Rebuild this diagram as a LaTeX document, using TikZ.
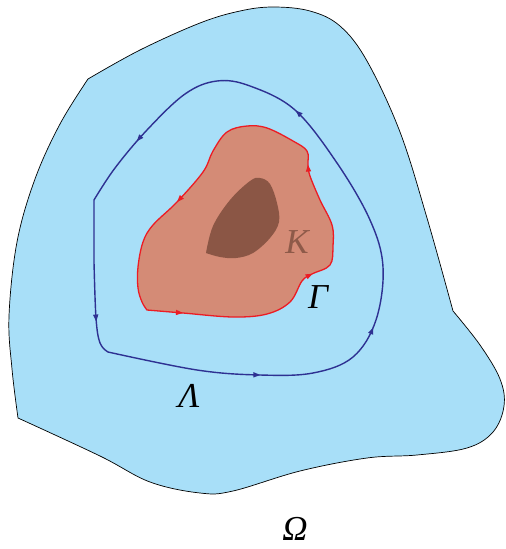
\documentclass[tikz,border=0pt]{standalone}
\usepackage{fontspec}
\setmainfont{Liberation Serif}
\usetikzlibrary{decorations.markings,arrows.meta}
\definecolor{skyfill}{HTML}{A8DFF8}
\definecolor{navyline}{HTML}{2E3192}
\definecolor{redline}{HTML}{EC1C24}
\definecolor{gammafill}{HTML}{D48B76}
\definecolor{kfill}{HTML}{8B5645}
\definecolor{klabel}{HTML}{8E5A49}
\pgfkeys{/pgf/decoration/curvetip/.style={mark=at position #1 with {\arrow{Triangle[length=7pt,width=5pt]}}}}
\tikzset{
  lbl/.style={font=\fontsize{35}{35}\selectfont\itshape, inner sep=0pt},
}
\begin{document}
\begin{tikzpicture}[x=1pt,y=-1pt]
\useasboundingbox (0,0) rectangle (506,549);
% Omega region
\draw[fill=skyfill, draw=black, line width=0.7pt]
  (88,79) -- plot[smooth, tension=0.6] coordinates {(88,79) (140,50) (200,23) (240,11) (273,7) (310,11) (340,26) (367,61) (400,132) (427,218) (453,311)}
  -- plot[smooth, tension=0.6] coordinates {(453,311) (480,345) (500,379) (504,406) (493,432) (467,448) (417,455) (367,458) (300,471) (233,491) (200,493) (150,482) (100,456) (18,418)}
  -- plot[smooth, tension=0.6] coordinates {(18,418) (12,369) (9,316) (17,242) (35,179) (60,124) (88,79)}
  -- cycle;
% Lambda
\draw[navyline, line width=1.4pt,
  postaction={decorate},
  decoration={markings, curvetip=0.163, curvetip=0.303, curvetip=0.560, curvetip=0.759, curvetip=0.964}]
  plot[smooth, tension=0.6] coordinates {(108,352) (197,370) (260,375) (313,373) (353,357) (376,320) (383,267) (370,220) (337,163) (295,110) (250,86) (217,81) (185,94) (147,130) (115,168) (94,200)}
  -- plot[smooth, tension=0.6] coordinates {(94,262) (96,318) (100,343) (108,352)};
% Gamma region
\draw[redline, fill=gammafill, line width=1.3pt,
  postaction={decorate},
  decoration={markings, curvetip=0.058, curvetip=0.296, curvetip=0.498, curvetip=0.801}]
  plot[smooth, tension=0.6] coordinates {(147,310) (183,313) (233,317) (267,314) (290,302) (302,281) (312,274) (330,265) (333,246) (332,225) (320,200) (310,176) (308,165) (307,151) (293,141) (267,128) (247,126) (227,132) (213,151) (203,172) (177,202) (153,225) (143,242) (138,267) (138,288) (142,302) (147,310)} -- cycle;
% K region
\fill[kfill] plot[smooth, tension=0.6] coordinates {(206,253) (213,226) (230,200) (250,181) (260,178) (270,184) (277,203) (279,222) (270,238) (253,253) (236,258) (220,257) (206,253)} -- cycle;
% labels
\node[lbl, text=klabel] (K) at (297,242) {K};
\node[lbl] (G) at (318,297) {Γ};
\node[lbl] (L) at (189,396) {Λ};
\node[lbl] (O) at (295,529) {Ω};
\end{tikzpicture}
\end{document}
